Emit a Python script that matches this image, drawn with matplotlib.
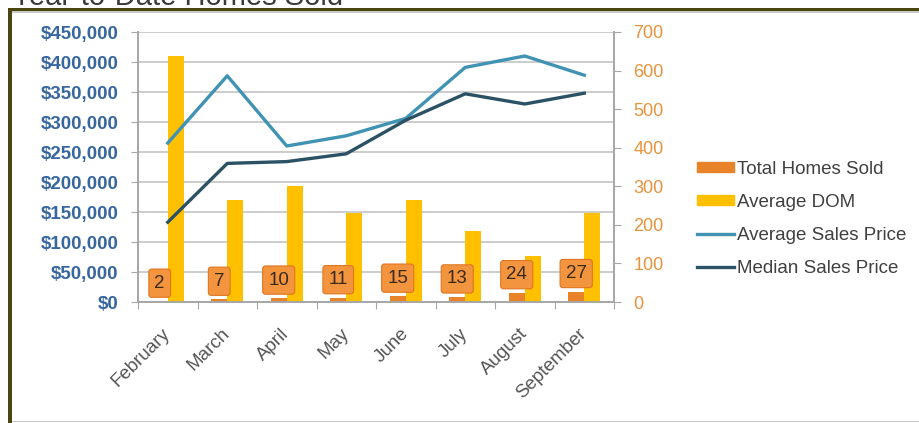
import matplotlib
matplotlib.use("Agg")
import matplotlib.pyplot as plt
from matplotlib.patches import Rectangle, Patch
from matplotlib.lines import Line2D
from matplotlib.transforms import blended_transform_factory
from matplotlib.ticker import FuncFormatter, FixedLocator
import numpy as np

plt.rcParams['font.family'] = ['Liberation Sans', 'DejaVu Sans']

months = ["February", "March", "April", "May", "June", "July", "August", "September"]
homes_sold = [2, 7, 10, 11, 15, 13, 24, 27]
avg_dom = [638, 265, 302, 231, 264, 184, 119, 231]
avg_price = [265000, 377000, 260000, 277000, 306000, 391000, 410000, 378000]
median_price = [133000, 231000, 234000, 247000, 303000, 347000, 330000, 348000]

c_sold = '#e8832a'
c_dom = '#ffc000'
c_avg = '#4093b3'
c_med = '#2b5264'
c_grid = '#c4c4c4'
c_spine = '#a6a6a6'

fig = plt.figure(figsize=(9.19, 4.23), dpi=100)

# frame around the chart
fig.patches.append(Rectangle((8/919, 1-11/423), 1, 3/423, transform=fig.transFigure,
                             facecolor='#4a4612', edgecolor='none', zorder=5))
fig.patches.append(Rectangle((8/919, 1-13/423), 1, 2/423, transform=fig.transFigure,
                             facecolor='#c8c8c8', edgecolor='none', zorder=5))
fig.patches.append(Rectangle((8/919, 0), 4/919, 1-8/423, transform=fig.transFigure,
                             facecolor='#4a4612', edgecolor='none', zorder=5))
fig.patches.append(Rectangle((12/919, 1/423), 1, 1.5/423, transform=fig.transFigure,
                             facecolor='#c8c8c8', edgecolor='none', zorder=5))
fig.text(12/919, 1-5/423, "Year-to-Date Homes Sold", fontsize=21, color='#3a3a3a',
         va='baseline', ha='left')

ax = fig.add_axes([138/919, 1-302/423, 476/919, 270/423])
ax2 = ax.twinx()

x = np.arange(len(months))
w = 0.27

# bars on the count axis (right side)
ax.bar(x - w/2, homes_sold, w, color=c_sold, zorder=2, label="Total Homes Sold")
ax.bar(x + w/2, avg_dom, w, color=c_dom, zorder=2, label="Average DOM")
ax.set_ylim(0, 700)
ax.set_xlim(-0.5, len(months) - 0.5)
ax.yaxis.tick_right()
ax.set_yticks(np.arange(0, 701, 100))
ax.tick_params(axis='y', colors=c_spine, labelcolor='#e8923a', labelsize=13,
               length=5, direction='out', pad=9)

for xi, v in zip(x, homes_sold):
    ax.annotate(str(v), (xi - w/2, v), xytext=(0, 13), textcoords='offset points',
                ha='center', va='center', fontsize=13.5, color='#3a2a1a', zorder=4,
                bbox=dict(boxstyle='round,pad=0.3,rounding_size=0.15',
                          fc='#f3953f', ec='#e0751f', lw=0.8))

# price lines (left side)
ax2.plot(x, avg_price, color=c_avg, lw=2.4, label="Average Sales Price")
ax2.plot(x, median_price, color=c_med, lw=2.4, label="Median Sales Price")
ax2.set_ylim(0, 450000)
ax2.yaxis.tick_left()
ax2.set_yticks(np.arange(0, 450001, 50000))
ax2.yaxis.set_major_formatter(FuncFormatter(lambda v, p: "${:,.0f}".format(v)))
ax2.tick_params(axis='y', colors=c_spine, labelcolor='#3867a0', labelsize=13.5,
                length=5, direction='out', pad=9)
for t in ax2.get_yticklabels():
    t.set_fontweight('semibold')

# gridlines follow the price axis but sit behind the bars
grid_tr = blended_transform_factory(ax.transAxes, ax2.transData)
ax.hlines(np.arange(50000, 450001, 50000), 0, 1, transform=grid_tr,
          colors=c_grid, lw=1.2, zorder=1)

# x axis: ticks between categories, labels at centres
ax.xaxis.set_major_locator(FixedLocator(np.arange(-0.5, len(months), 1)))
ax.xaxis.set_minor_locator(FixedLocator(x))
ax.xaxis.set_major_formatter(FuncFormatter(lambda v, p: ""))
ax.set_xticklabels(months, minor=True, rotation=45, ha='right', va='center',
                   rotation_mode='anchor', fontsize=13.5, color='#555555')
ax.tick_params(axis='x', which='major', colors=c_spine, length=5, direction='out')
ax.tick_params(axis='x', which='minor', length=0, pad=21)

for a in (ax, ax2):
    a.spines['top'].set_visible(False)
    for s in ('left', 'right', 'bottom'):
        a.spines[s].set_color(c_spine)
        a.spines[s].set_linewidth(1.2)

handles = [Patch(color=c_sold), Patch(color=c_dom),
           Line2D([], [], color=c_avg, lw=2.4), Line2D([], [], color=c_med, lw=2.4)]
labels = ["Total Homes Sold", "Average DOM", "Average Sales Price", "Median Sales Price"]
fig.legend(handles, labels, loc='center left', bbox_to_anchor=(680/919, 1-219/423),
           frameon=False, fontsize=13.5, handlelength=2.0, handleheight=0.45,
           handletextpad=0.15, labelspacing=0.85, labelcolor='#404040')

fig.savefig("out.png", dpi=100)
